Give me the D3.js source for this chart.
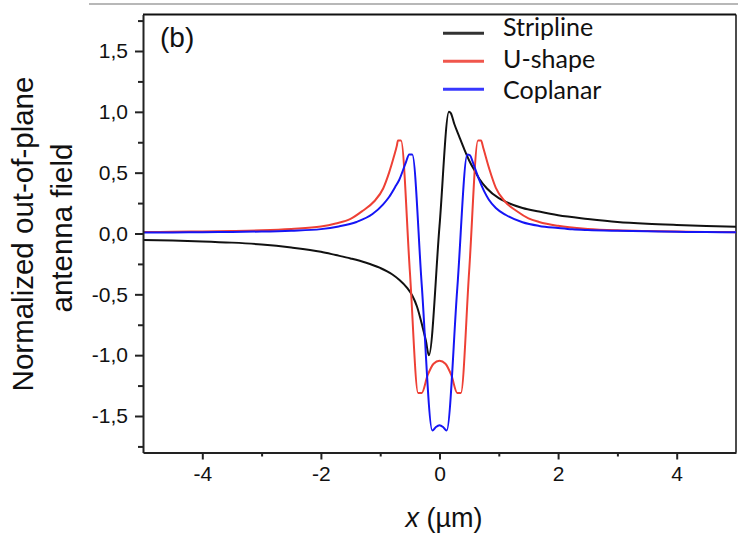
<!DOCTYPE html>
<html>
<head>
<meta charset="utf-8">
<script src="https://cdn.jsdelivr.net/npm/d3@7"></script>
<style>
  html, body { margin: 0; padding: 0; background: #fff; }
  svg { display: block; }
</style>
</head>
<body>
<svg id="chart" width="738" height="536"></svg>
<script>
// ---------- data ----------
const seriesNames = ["Stripline", "U-shape", "Coplanar"];
const seriesColors = ["#111111", "#ee4035", "#1515f5"];
const legendColors = ["#333333", "#f0564c", "#3838ff"];

const stripline = [
  [-5, -0.053], [-4.5, -0.058], [-4, -0.065], [-3.5, -0.075], [-3, -0.09],
  [-2.5, -0.115], [-2, -0.15], [-1.75, -0.177], [-1.5, -0.205], [-1.25, -0.238],
  [-1.0, -0.283], [-0.8, -0.335], [-0.68, -0.38], [-0.55, -0.445], [-0.46, -0.51],
  [-0.38, -0.6], [-0.29, -0.76], [-0.23, -0.88], [-0.18, -1.0], [0.0, 0.06],
  [0.16, 1.0], [0.19, 0.99], [0.25, 0.9], [0.33, 0.8], [0.42, 0.69],
  [0.5, 0.6], [0.6, 0.51], [0.67, 0.45], [0.8, 0.37], [1.0, 0.29],
  [1.12, 0.26], [1.4, 0.21], [1.68, 0.18], [2.0, 0.15], [2.5, 0.12],
  [3.0, 0.095], [3.5, 0.08], [4.0, 0.07], [4.5, 0.062], [5.0, 0.056]
];

const ushape = [
  [-5, 0.012], [-4.5, 0.014], [-4, 0.017], [-3.5, 0.021], [-3, 0.027],
  [-2.5, 0.038], [-2, 0.057], [-1.75, 0.082], [-1.5, 0.12], [-1.3, 0.185],
  [-1.1, 0.265], [-0.95, 0.37], [-0.85, 0.5], [-0.77, 0.63], [-0.72, 0.72],
  [-0.70, 0.765], [-0.65, 0.765], [-0.5, -0.31], [-0.36, -1.31], [-0.3, -1.31],
  [-0.2, -1.165], [-0.1, -1.07], [0, -1.045], [0.1, -1.07], [0.2, -1.165],
  [0.3, -1.31], [0.36, -1.31], [0.5, -0.31], [0.65, 0.765], [0.70, 0.765],
  [0.74, 0.7], [0.84, 0.53], [0.95, 0.375], [1.1, 0.265], [1.3, 0.185],
  [1.5, 0.125], [1.68, 0.095], [2.0, 0.063], [2.5, 0.038], [3.0, 0.026],
  [3.5, 0.02], [4.0, 0.016], [4.5, 0.013], [5.0, 0.01]
];

const coplanar = [
  [-5, 0.008], [-4.5, 0.009], [-4, 0.011], [-3.5, 0.013], [-3, 0.016],
  [-2.5, 0.023], [-2, 0.036], [-1.7, 0.058], [-1.4, 0.095], [-1.13, 0.16],
  [-0.95, 0.24], [-0.85, 0.3], [-0.75, 0.38], [-0.68, 0.44], [-0.57, 0.58],
  [-0.51, 0.65], [-0.46, 0.65], [-0.3, -0.42], [-0.12, -1.62], [-0.06, -1.59],
  [0, -1.575], [0.06, -1.59], [0.12, -1.62], [0.3, -0.45], [0.47, 0.65],
  [0.51, 0.645], [0.58, 0.56], [0.67, 0.44], [0.75, 0.35], [0.83, 0.28],
  [0.95, 0.21], [1.12, 0.152], [1.4, 0.092], [1.68, 0.062], [2.0, 0.045],
  [2.24, 0.034], [2.5, 0.028], [3.0, 0.022], [3.5, 0.018], [4.0, 0.014],
  [4.5, 0.012], [5.0, 0.01]
];

const xTicks = [-4, -2, 0, 2, 4];
const xMinorTicks = [-3, -1, 1, 3];
const yTicks = [-1.5, -1.0, -0.5, 0.0, 0.5, 1.0, 1.5];
const yMinorTicks = [-1.75, -1.25, -0.75, -0.25, 0.25, 0.75, 1.25, 1.75];
const xDomain = [-5, 5];
const yDomain = [-1.8, 1.8];

const panelLabel = "(b)";
const yLabelLines = ["Normalized out-of-plane", "antenna field"];

// ---------- drawing ----------
const svg = d3.select("#chart");
const pLeft = 143, pRight = 736, pTop = 14.5, pBottom = 452.5;
const x = d3.scaleLinear().domain(xDomain).range([pLeft, pRight]);
const y = d3.scaleLinear().domain(yDomain).range([pBottom, pTop]);

const locale = d3.formatLocale({decimal: ",", thousands: ".", grouping: [3], currency: ["", ""], minus: "-"});
const fmtY = locale.format(".1f");
const fmtX = locale.format("d");

const sans = "'Liberation Sans', Arial, Helvetica, sans-serif";

// faint gray rule at the very top
svg.append("line").attr("x1", 89).attr("x2", 738).attr("y1", 4).attr("y2", 4)
  .attr("stroke", "#b8b8b8").attr("stroke-width", 2);

// frame: top and right
svg.append("line").attr("x1", pLeft).attr("x2", pRight).attr("y1", pTop).attr("y2", pTop)
  .attr("stroke", "#111").attr("stroke-width", 1.8);
svg.append("line").attr("x1", pRight).attr("x2", pRight).attr("y1", pTop).attr("y2", pBottom)
  .attr("stroke", "#111").attr("stroke-width", 1.5);

// clip for curves
svg.append("clipPath").attr("id", "plotclip").append("rect")
  .attr("x", pLeft).attr("y", pTop).attr("width", pRight - pLeft).attr("height", pBottom - pTop);

const line = d3.line().x(d => x(d[0])).y(d => y(d[1])).curve(d3.curveMonotoneX);
const allSeries = [stripline, ushape, coplanar];
const curves = svg.append("g").attr("clip-path", "url(#plotclip)");
allSeries.forEach((s, i) => {
  curves.append("path").datum(s).attr("d", line)
    .attr("fill", "none").attr("stroke", seriesColors[i])
    .attr("stroke-width", 2).attr("stroke-linejoin", "round");
});

// axes
function styleAxis(g) {
  g.select(".domain").attr("stroke", "#222").attr("stroke-width", 2);
  g.selectAll(".tick line").attr("stroke", "#222").attr("stroke-width", 2);
  g.selectAll(".tick text").attr("fill", "#111").attr("font-family", sans).attr("font-size", 21);
}

const gyMinor = svg.append("g").attr("transform", `translate(${pLeft},0)`)
  .call(d3.axisLeft(y).tickValues(yMinorTicks).tickSize(5).tickFormat(""));
gyMinor.select(".domain").remove();
gyMinor.selectAll(".tick line").attr("stroke", "#222").attr("stroke-width", 2);

const gy = svg.append("g").attr("transform", `translate(${pLeft},0)`)
  .call(d3.axisLeft(y).tickValues(yTicks).tickSize(8).tickPadding(7).tickFormat(fmtY).tickSizeOuter(0));
styleAxis(gy);

const gxMinor = svg.append("g").attr("transform", `translate(0,${pBottom})`)
  .call(d3.axisBottom(x).tickValues(xMinorTicks).tickSize(4).tickFormat(""));
gxMinor.select(".domain").remove();
gxMinor.selectAll(".tick line").attr("stroke", "#222").attr("stroke-width", 2);

const gx = svg.append("g").attr("transform", `translate(0,${pBottom})`)
  .call(d3.axisBottom(x).tickValues(xTicks).tickSize(7).tickPadding(7).tickFormat(fmtX).tickSizeOuter(0));
styleAxis(gx);

// panel label
svg.append("text").attr("x", 160).attr("y", 47).text(panelLabel)
  .attr("font-family", sans).attr("font-size", 28).attr("fill", "#111");

// y label (two lines)
const yLabelPos = [[33, 234], [72, 228]];
yLabelLines.forEach((t, i) => {
  svg.append("text")
    .attr("transform", `translate(${yLabelPos[i][0]},${yLabelPos[i][1]}) rotate(-90)`)
    .attr("text-anchor", "middle").attr("font-family", sans).attr("font-size", 29.5)
    .attr("fill", "#111").text(t);
});

// x label
const xl = svg.append("text").attr("x", 444).attr("y", 527).attr("text-anchor", "middle")
  .attr("font-family", sans).attr("font-size", 27).attr("fill", "#111");
xl.append("tspan").attr("font-style", "italic").text("x");
xl.append("tspan").text(" (\u00b5m)");

// legend
const legFont = "Lato, 'Open Sans', sans-serif";
seriesNames.forEach((name, i) => {
  const ly = 33.3 + i * 28;
  svg.append("line").attr("x1", 443).attr("x2", 484).attr("y1", ly).attr("y2", ly)
    .attr("stroke", legendColors[i]).attr("stroke-width", 3);
  svg.append("text").attr("x", 503).attr("y", 36 + i * 31.6).text(name)
    .attr("font-family", legFont).attr("font-size", 25).attr("fill", "#111");
});
</script>
</body>
</html>
